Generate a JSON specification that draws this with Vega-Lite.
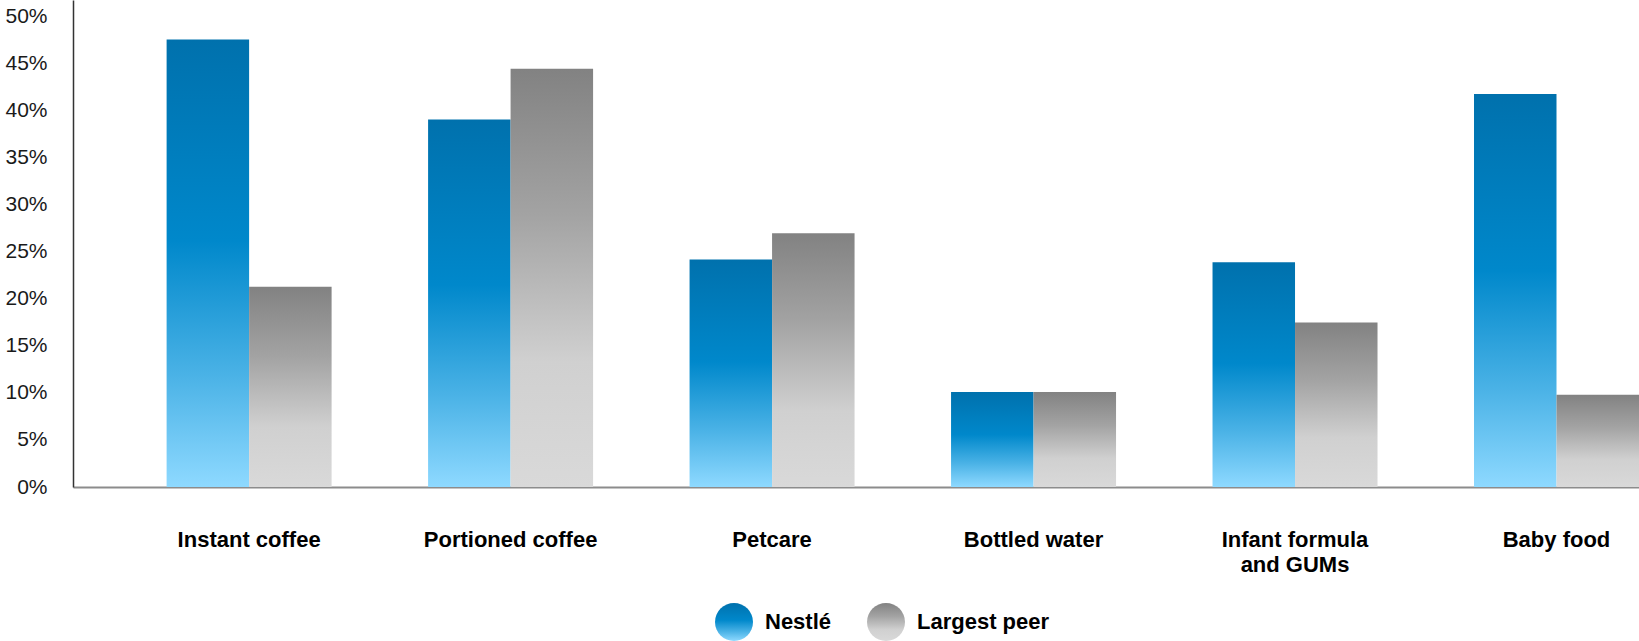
{
  "$schema": "https://vega.github.io/schema/vega-lite/v6.json",
  "width": 1566,
  "height": 487,
  "autosize": "none",
  "padding": {"left": 73, "top": 0, "right": 0, "bottom": 154},
  "background": "white",
  "data": {
    "values": [
      {"category": "Instant coffee", "series": "Nestlé", "share": 47.6},
      {"category": "Instant coffee", "series": "Largest peer", "share": 21.3},
      {"category": "Portioned coffee", "series": "Nestlé", "share": 39.1},
      {"category": "Portioned coffee", "series": "Largest peer", "share": 44.5},
      {"category": "Petcare", "series": "Nestlé", "share": 24.2},
      {"category": "Petcare", "series": "Largest peer", "share": 27.0},
      {"category": "Bottled water", "series": "Nestlé", "share": 10.1},
      {"category": "Bottled water", "series": "Largest peer", "share": 10.1},
      {"category": "Infant formula and GUMs", "series": "Nestlé", "share": 23.9},
      {"category": "Infant formula and GUMs", "series": "Largest peer", "share": 17.5},
      {"category": "Baby food", "series": "Nestlé", "share": 41.8},
      {"category": "Baby food", "series": "Largest peer", "share": 9.8}
    ]
  },
  "mark": {"type": "bar"},
  "encoding": {
    "x": {
      "field": "category",
      "type": "nominal",
      "sort": ["Instant coffee", "Portioned coffee", "Petcare", "Bottled water", "Infant formula and GUMs", "Baby food"],
      "scale": {"paddingInner": 0.369, "paddingOuter": 0.179, "align": 1},
      "axis": {
        "title": null,
        "labelAngle": 0,
        "ticks": false,
        "tickSize": 0,
        "domainColor": "#8c8c8c",
        "domainWidth": 2,
        "labelFont": "Liberation Sans",
        "labelFontSize": 22,
        "labelFontWeight": "bold",
        "labelColor": "#000000",
        "labelPadding": 42,
        "labelLineHeight": 25,
        "labelExpr": "datum.label == 'Infant formula and GUMs' ? ['Infant formula', 'and GUMs'] : datum.label"
      }
    },
    "xOffset": {
      "field": "series",
      "type": "nominal",
      "sort": ["Nestlé", "Largest peer"],
      "scale": {"domain": ["Nestlé", "Largest peer"], "paddingInner": 0, "paddingOuter": 0}
    },
    "y": {
      "field": "share",
      "type": "quantitative",
      "scale": {"domain": [0, 51.8], "nice": false},
      "axis": {
        "title": null,
        "grid": false,
        "ticks": false,
        "values": [0, 5, 10, 15, 20, 25, 30, 35, 40, 45, 50],
        "labelExpr": "datum.value + '%'",
        "domainColor": "#333333",
        "domainWidth": 1.5,
        "labelFont": "Liberation Sans",
        "labelFontSize": 21,
        "labelColor": "#1a1a1a",
        "labelPadding": 26
      }
    },
    "color": {
      "field": "series",
      "type": "nominal",
      "sort": ["Nestlé", "Largest peer"],
      "scale": {
        "domain": ["Nestlé", "Largest peer"],
        "range": [
          {"expr": "{gradient: 'linear', x1: 0, y1: 0, x2: 0, y2: 1, stops: [{offset: 0, color: '#0071ad'}, {offset: 0.45, color: '#0088cb'}, {offset: 0.75, color: '#4ab2e6'}, {offset: 1, color: '#8ed9ff'}]}"},
          {"expr": "{gradient: 'linear', x1: 0, y1: 0, x2: 0, y2: 1, stops: [{offset: 0, color: '#828282'}, {offset: 0.35, color: '#a3a3a3'}, {offset: 0.7, color: '#d0d0d0'}, {offset: 1, color: '#d9d9d9'}]}"}
        ]
      },
      "legend": {
        "title": null,
        "orient": "none",
        "legendX": 642,
        "legendY": 603,
        "direction": "horizontal",
        "symbolType": "circle",
        "symbolSize": 1444,
        "symbolStrokeWidth": 0,
        "symbolOpacity": 1,
        "labelFont": "Liberation Sans",
        "labelFontSize": 22,
        "labelFontWeight": "bold",
        "labelColor": "#000000",
        "labelOffset": 12,
        "columnPadding": 35
      }
    }
  },
  "config": {"view": {"stroke": null}}
}
